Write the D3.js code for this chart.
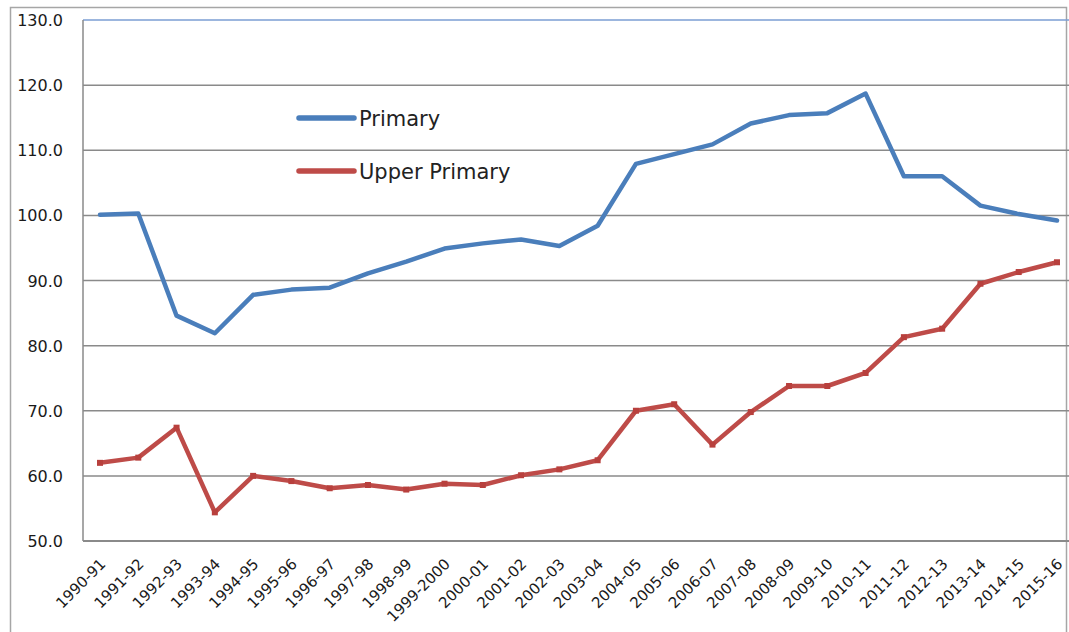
<!DOCTYPE html>
<html>
<head>
<meta charset="utf-8">
<script src="https://cdn.jsdelivr.net/npm/d3@7"></script>
<style>
  html, body { margin: 0; padding: 0; background: #fff; }
  svg { display: block; }
</style>
</head>
<body>
<svg id="chart" width="1069" height="632"></svg>
<script>
const categories = ["1990-91","1991-92","1992-93","1993-94","1994-95","1995-96","1996-97","1997-98","1998-99","1999-2000","2000-01","2001-02","2002-03","2003-04","2004-05","2005-06","2006-07","2007-08","2008-09","2009-10","2010-11","2011-12","2012-13","2013-14","2014-15","2015-16"];
const primary = [100.1,100.3,84.6,81.9,87.8,88.6,88.9,91.1,92.9,94.9,95.7,96.3,95.3,98.4,107.9,109.4,110.9,114.1,115.4,115.7,118.7,106.0,106.0,101.5,100.2,99.2];
const upperPrimary = [62.0,62.8,67.4,54.4,60.0,59.2,58.1,58.6,57.9,58.8,58.6,60.1,61.0,62.4,70.0,71.0,64.8,69.8,73.8,73.8,75.8,81.3,82.6,89.5,91.3,92.8];
const yTicks = [50,60,70,80,90,100,110,120,130];
const seriesNames = ["Primary","Upper Primary"];
const seriesColors = ["#4a7ebb","#be4b48"];

const svg = d3.select("#chart");
const plotLeft = 83, plotRight = 1069, plotTop = 20, plotBottom = 541;

const x = d3.scalePoint().domain(categories).range([100, 1057]);
const y = d3.scaleLinear().domain([50,130]).range([plotBottom, plotTop]);

// outer frame
svg.append("rect").attr("x",10.5).attr("y",7.5).attr("width",1056).attr("height",640)
  .attr("fill","none").attr("stroke","#a6a6a6").attr("stroke-width",1.5);

// gridlines
const grid = svg.append("g");
grid.selectAll("line").data(yTicks).join("line")
  .attr("x1", plotLeft).attr("x2", plotRight)
  .attr("y1", d => y(d)).attr("y2", d => y(d))
  .attr("stroke", d => d === 130 ? "#7b9ed3" : "#8a8a8a")
  .attr("stroke-width", d => d === 50 ? 2 : 1.5);

// left axis line
svg.append("line").attr("x1",plotLeft).attr("x2",plotLeft).attr("y1",plotTop).attr("y2",plotBottom)
  .attr("stroke","#8a8a8a").attr("stroke-width",1.5);

// y axis labels
const yAxis = d3.axisLeft(y).tickValues(yTicks).tickFormat(d3.format(".1f")).tickSize(0).tickPadding(0);
const yg = svg.append("g").attr("transform","translate(63,0)").call(yAxis);
yg.select(".domain").remove();
yg.selectAll("text").attr("font-family","DejaVu Sans, Verdana, sans-serif").attr("font-size",16)
  .attr("fill","#1a1a1a").attr("dy","0.35em");

// x axis labels
const xAxis = d3.axisBottom(x).tickSize(0).tickPadding(0);
const xg = svg.append("g").attr("transform",`translate(0,${plotBottom})`).call(xAxis);
xg.select(".domain").remove();
xg.selectAll("text")
  .attr("font-family","DejaVu Sans, Verdana, sans-serif").attr("font-size",15).attr("fill","#1a1a1a")
  .attr("text-anchor","end").attr("dy",0).attr("y",0)
  .attr("transform","translate(6,24) rotate(-45)");

// lines
const line = d3.line().x((d,i) => x(categories[i])).y(d => y(d));
[primary, upperPrimary].forEach((s, k) => {
  svg.append("path").datum(s).attr("d", line).attr("fill","none")
    .attr("stroke", seriesColors[k]).attr("stroke-width",4.5)
    .attr("stroke-linejoin","round").attr("stroke-linecap","round");
});
// small square markers on the red series
svg.append("g").selectAll("rect").data(upperPrimary).join("rect")
  .attr("x",(d,i)=>x(categories[i])-3).attr("y",d=>y(d)-3)
  .attr("width",6).attr("height",6).attr("fill","#b8403d");

// legend
const legend = svg.append("g");
const legY = [118, 171];
seriesNames.forEach((n,k) => {
  legend.append("line").attr("x1",299).attr("x2",354).attr("y1",legY[k]).attr("y2",legY[k])
    .attr("stroke",seriesColors[k]).attr("stroke-width",5.5).attr("stroke-linecap","round");
  legend.append("text").attr("x",359).attr("y",legY[k]).attr("dy","0.36em")
    .attr("font-family","DejaVu Sans, Verdana, sans-serif").attr("font-size",21)
    .attr("fill","#222").text(n);
});
</script>
</body>
</html>
